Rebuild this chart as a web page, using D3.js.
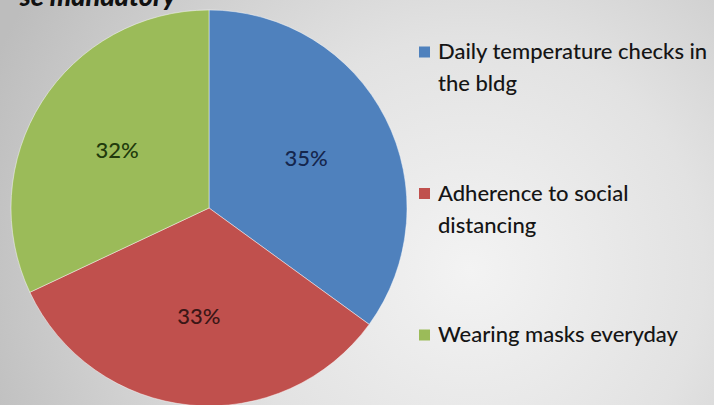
<!DOCTYPE html>
<html>
<head>
<meta charset="utf-8">
<script src="https://cdn.jsdelivr.net/npm/d3@7"></script>
<style>
  html, body { margin: 0; padding: 0; overflow: hidden; }
  svg { display: block; }
</style>
</head>
<body>
<svg id="chart" width="714" height="405"></svg>
<script>
// Survey shares: which measures respondents want made mandatory
const categories = ["Daily temperature checks in the bldg", "Adherence to social distancing", "Wearing masks everyday"];
const legendLines = [["Daily temperature checks in", "the bldg"], ["Adherence to social", "distancing"], ["Wearing masks everyday"]];
const shares = [35, 33, 32];
const sliceColors = ["#4f81bd", "#c0504d", "#9bbb59"];
const labelColors = ["#15264d", "#3b1616", "#213a0c"];
const titleText = "se mandatory";

const W = 714, H = 405;
const svg = d3.select("#chart");

// soft radial backdrop
const defs = svg.append("defs");
const bg = defs.append("radialGradient")
  .attr("id", "bg").attr("gradientUnits", "userSpaceOnUse")
  .attr("cx", 470).attr("cy", 270).attr("r", 520);
bg.append("stop").attr("offset", "0%").attr("stop-color", "#f3f3f3");
bg.append("stop").attr("offset", "45%").attr("stop-color", "#e2e2e2");
bg.append("stop").attr("offset", "100%").attr("stop-color", "#bdbdbd");
svg.append("rect").attr("width", W).attr("height", H).attr("fill", "url(#bg)");

// title (only its lower part falls inside the frame)
svg.append("text")
  .attr("x", 176).attr("y", 6)
  .attr("text-anchor", "end")
  .attr("font-family", "Lato, 'Open Sans', sans-serif")
  .attr("font-weight", 900).attr("font-style", "italic")
  .attr("font-size", 27).attr("fill", "#111")
  .text(titleText);

// pie
const cx = 209, cy = 208, R = 198;
const pie = d3.pie().sort(null).value(d => d);
const arcs = pie(shares);
const arc = d3.arc().innerRadius(0).outerRadius(R);
const labelArc = d3.arc().innerRadius(R * 0.55).outerRadius(R * 0.55);

const g = svg.append("g").attr("transform", `translate(${cx},${cy})`);
g.selectAll("path.slice").data(arcs).join("path")
  .attr("class", "slice")
  .attr("d", arc)
  .attr("fill", (d, i) => sliceColors[i])
  .attr("stroke", "rgba(255,255,255,0.45)")
  .attr("stroke-width", 1);

g.selectAll("text.pct").data(arcs).join("text")
  .attr("class", "pct")
  .attr("transform", d => `translate(${labelArc.centroid(d)})`)
  .attr("text-anchor", "middle")
  .attr("dy", "0.36em")
  .attr("font-family", "Lato, 'Open Sans', sans-serif")
  .attr("font-size", 22)
  .attr("font-weight", 500)
  .attr("fill", (d, i) => labelColors[i])
  .text(d => d3.format(".0%")(d.data / 100));

// legend
const legendY = d3.scalePoint().domain(categories).range([52, 335]);
const lg = svg.append("g");
const item = lg.selectAll("g.item").data(categories).join("g")
  .attr("class", "item")
  .attr("transform", d => `translate(419,${legendY(d)})`);
item.append("rect")
  .attr("x", 0).attr("y", -5.5).attr("width", 11).attr("height", 11)
  .attr("fill", (d, i) => sliceColors[i]);
item.each(function(d, i) {
  const t = d3.select(this).append("text")
    .attr("x", 19).attr("y", 7)
    .attr("font-family", "Lato, 'Open Sans', sans-serif")
    .attr("font-size", 22)
    .attr("font-weight", 500)
    .attr("fill", "#151515");
  legendLines[i].forEach((line, j) => {
    t.append("tspan").attr("x", 19).attr("dy", j === 0 ? 0 : 32).text(line);
  });
});
</script>
</body>
</html>
